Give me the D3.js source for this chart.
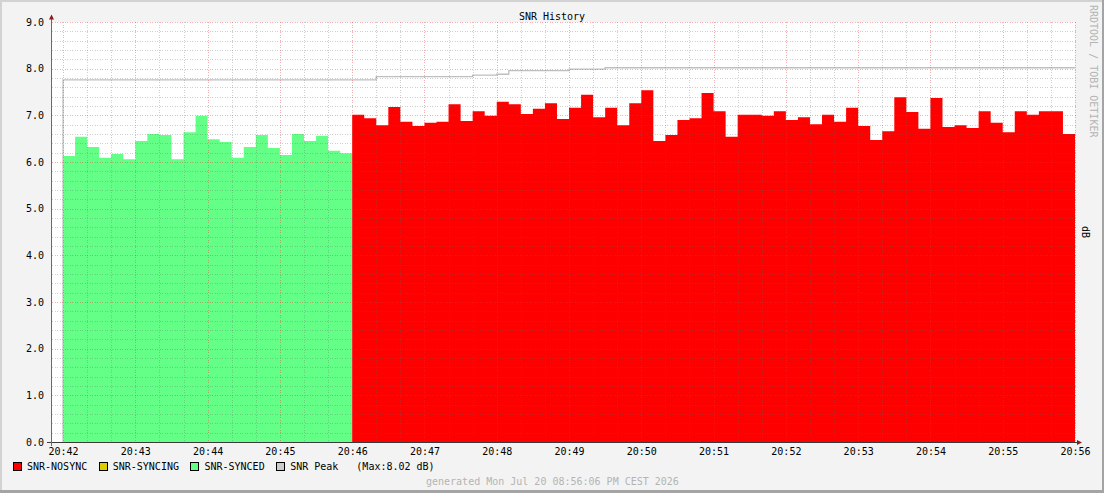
<!DOCTYPE html>
<html>
<head>
<meta charset="utf-8">
<script src="https://cdn.jsdelivr.net/npm/d3@7"></script>
<style>
  body { margin: 0; background: #f3f3f3; }
  svg { display: block; font-family: "DejaVu Sans Mono", monospace; font-size: 10px; }
</style>
</head>
<body>
<div id="chart"></div>
<script>
// Samples every 10 seconds, starting at 20:42:00
const startTime = "20:42:00";
const stepSeconds = 10;

const snrSynced = [
    6.13, 6.54, 6.32, 6.09, 6.17, 6.06, 6.45, 6.60, 6.58, 6.06, 6.64, 6.99,
    6.49, 6.43, 6.09, 6.32, 6.58, 6.30, 6.15, 6.60, 6.45, 6.56, 6.24, 6.19
];
const snrSyncing = [];
const snrNosync = [
    7.01, 6.94, 6.79, 7.18, 6.86, 6.77, 6.84, 6.86, 7.24, 6.88, 7.09, 6.99,
    7.29, 7.24, 7.03, 7.14, 7.26, 6.92, 7.16, 7.44, 6.96, 7.16, 6.79, 7.26,
    7.54, 6.45, 6.58, 6.90, 6.94, 7.48, 7.09, 6.54, 7.01, 7.01, 6.99, 7.09,
    6.90, 6.96, 6.81, 7.01, 6.86, 7.16, 6.77, 6.47, 6.66, 7.39, 7.07, 6.71,
    7.37, 6.75, 6.79, 6.73, 7.09, 6.84, 6.64, 7.09, 7.01, 7.09, 7.09, 6.60
];
const snrPeak = [
    7.76, 7.76, 7.76, 7.76, 7.76, 7.76, 7.76, 7.76, 7.76, 7.76, 7.76, 7.76, 7.76,
    7.76, 7.76, 7.76, 7.76, 7.76, 7.76, 7.76, 7.76, 7.76, 7.76, 7.76, 7.76, 7.76,
    7.83, 7.83, 7.83, 7.83, 7.83, 7.83, 7.83, 7.83,
    7.86, 7.86, 7.88,
    7.96, 7.96, 7.96, 7.96, 7.96,
    7.99, 7.99, 7.99,
    8.02, 8.02, 8.02, 8.02, 8.02, 8.02, 8.02, 8.02, 8.02, 8.02, 8.02, 8.02, 8.02,
    8.02, 8.02, 8.02, 8.02, 8.02, 8.02, 8.02, 8.02, 8.02, 8.02, 8.02, 8.02, 8.02,
    8.02, 8.02, 8.02, 8.02, 8.02, 8.02, 8.02, 8.02, 8.02, 8.02, 8.02, 8.02, 8.02
];
const peakMax = "8.02";

const xTickLabels = ["20:42", "20:43", "20:44", "20:45", "20:46", "20:47", "20:48",
                     "20:49", "20:50", "20:51", "20:52", "20:53", "20:54", "20:55", "20:56"];
const yTickLabels = ["0.0", "1.0", "2.0", "3.0", "4.0", "5.0", "6.0", "7.0", "8.0", "9.0"];
const legendLabels = ["SNR-NOSYNC", "SNR-SYNCING", "SNR-SYNCED", "SNR Peak"];

const w = 1104;
const h = 493;
const pLeft = 51, pRight = 1075, pTop = 22, pBottom = 442;

const colors = {
    nosync: "#ff0000",
    syncing: "#ddcc00",
    synced: "#64ff87",
    peak: "#cccccc"
};

const toDate = (s) => {
    const [hh, mm, ss] = s.split(":").map(Number);
    return new Date(2026, 6, 20, hh, mm, ss || 0);
};
const t0 = toDate(startTime);
const tAt = (i) => new Date(t0.getTime() + i * stepSeconds * 1000);
const total = snrSynced.length + snrSyncing.length + snrNosync.length;

const xScale = d3.scaleTime()
    .domain([tAt(-1), tAt(total)])
    .range([pLeft, pRight]);

const yScale = d3.scaleLinear()
    .domain([0, 9])
    .range([pBottom, pTop]);

// turn a run of samples into step points (last value held to the end of its slot)
const toSteps = (values, offset) => {
    const pts = values.map((v, i) => ({ t: tAt(offset + i), v: v }));
    if (values.length) pts.push({ t: tAt(offset + values.length), v: values[values.length - 1] });
    return pts;
};

const svg = d3.select("#chart")
    .append("svg")
    .attr("width", w)
    .attr("height", h);

// Background + 3d frame
svg.append("rect").attr("width", w).attr("height", h).attr("fill", "#f3f3f3");
svg.append("rect").attr("x", 0).attr("y", 0).attr("width", w).attr("height", 2).attr("fill", "#d2d2d2");
svg.append("rect").attr("x", 0).attr("y", 0).attr("width", 2).attr("height", h).attr("fill", "#d2d2d2");
svg.append("rect").attr("x", w - 2).attr("y", 0).attr("width", 2).attr("height", h).attr("fill", "#a4a4a4");
svg.append("rect").attr("x", 0).attr("y", h - 3).attr("width", w).attr("height", 3).attr("fill", "#a4a4a4");

// Plot canvas
svg.append("rect")
    .attr("x", pLeft)
    .attr("y", pTop)
    .attr("width", pRight - pLeft)
    .attr("height", pBottom - pTop)
    .attr("fill", "#ffffff");

// Peak line (drawn under the areas, it starts from zero)
const peakPts = [{ t: tAt(0), v: 0 }].concat(toSteps(snrPeak, 0));
svg.append("path")
    .datum(peakPts)
    .attr("fill", "none")
    .attr("stroke", "#bfbfbf")
    .attr("stroke-width", 1.3)
    .attr("d", d3.line()
        .x((d) => xScale(d.t))
        .y((d) => yScale(d.v))
        .curve(d3.curveStepAfter));

// Areas
const area = d3.area()
    .x((d) => xScale(d.t))
    .y0(yScale(0))
    .y1((d) => yScale(d.v))
    .curve(d3.curveStepAfter);

const series = [
    { values: snrSynced, offset: 0, color: colors.synced },
    { values: snrSyncing, offset: snrSynced.length, color: colors.syncing },
    { values: snrNosync, offset: snrSynced.length + snrSyncing.length, color: colors.nosync }
];

svg.selectAll("path.area")
    .data(series.filter((s) => s.values.length))
    .enter()
    .append("path")
    .attr("class", "area")
    .attr("fill", (d) => d.color)
    .attr("d", (d) => area(toSteps(d.values, d.offset)));

// Grid (drawn over the data, semi transparent)
const grid = svg.append("g").attr("shape-rendering", "crispEdges");

const yMajor = yTickLabels.map(Number);
const yMinor = d3.range(0, 45).map((i) => i * 0.2).filter((v) => Math.abs(v - Math.round(v)) > 0.01);
const xMajor = xTickLabels.map(toDate);
const xMinor = xScale.ticks(d3.timeSecond.every(20)).filter((d) => d.getSeconds() !== 0);

const minorStroke = "rgba(100,100,100,0.3)";
const majorStroke = "rgba(230,50,50,0.38)";

grid.selectAll("line.ymin")
    .data(yMinor)
    .enter()
    .append("line")
    .attr("x1", pLeft + 1).attr("x2", pRight + 2)
    .attr("y1", (d) => Math.round(yScale(d)) + 0.5)
    .attr("y2", (d) => Math.round(yScale(d)) + 0.5)
    .attr("stroke", minorStroke)
    .attr("stroke-dasharray", "1,1.5");

grid.selectAll("line.xmin")
    .data(xMinor)
    .enter()
    .append("line")
    .attr("x1", (d) => Math.round(xScale(d)) + 0.5)
    .attr("x2", (d) => Math.round(xScale(d)) + 0.5)
    .attr("y1", pTop).attr("y2", pBottom + 3)
    .attr("stroke", minorStroke)
    .attr("stroke-dasharray", "1,1.5");

grid.selectAll("line.ymaj")
    .data(yMajor)
    .enter()
    .append("line")
    .attr("x1", pLeft + 1).attr("x2", pRight + 2)
    .attr("y1", (d) => Math.round(yScale(d)) + 0.5)
    .attr("y2", (d) => Math.round(yScale(d)) + 0.5)
    .attr("stroke", majorStroke)
    .attr("stroke-dasharray", "1,1.5");

grid.selectAll("line.xmaj")
    .data(xMajor)
    .enter()
    .append("line")
    .attr("x1", (d) => Math.round(xScale(d)) + 0.5)
    .attr("x2", (d) => Math.round(xScale(d)) + 0.5)
    .attr("y1", pTop).attr("y2", pBottom + 3)
    .attr("stroke", majorStroke)
    .attr("stroke-dasharray", "1,1.5");

// Axes labels
const xAxis = d3.axisBottom(xScale)
    .tickValues(xMajor)
    .tickFormat(d3.timeFormat("%H:%M"))
    .tickSize(0)
    .tickPadding(5.5);

const yAxis = d3.axisLeft(yScale)
    .tickValues(yMajor)
    .tickFormat(d3.format(".1f"))
    .tickSize(0)
    .tickPadding(7);

const gx = svg.append("g")
    .attr("transform", `translate(0, ${pBottom})`)
    .call(xAxis);
const gy = svg.append("g")
    .attr("transform", `translate(${pLeft}, 0)`)
    .call(yAxis);

[gx, gy].forEach((g) => {
    g.select(".domain").remove();
    g.selectAll("text")
        .attr("fill", "#000")
        .attr("font-family", "DejaVu Sans Mono, monospace")
        .attr("font-size", 10);
});

// Axis lines + arrows
svg.append("line")
    .attr("x1", pLeft - 4).attr("x2", pRight + 2)
    .attr("y1", pBottom + 0.5).attr("y2", pBottom + 0.5)
    .attr("stroke", "#3a3a3a")
    .attr("shape-rendering", "crispEdges");
svg.append("line")
    .attr("x1", pLeft + 0.5).attr("x2", pLeft + 0.5)
    .attr("y1", pBottom + 4).attr("y2", pTop - 3)
    .attr("stroke", "#6a6a6a")
    .attr("shape-rendering", "crispEdges");
svg.append("path")
    .attr("d", `M${pRight + 2},${pBottom - 2}L${pRight + 7},${pBottom + 0.5}L${pRight + 2},${pBottom + 3}Z`)
    .attr("fill", "#8b1c1c");
svg.append("path")
    .attr("d", `M${pLeft - 2},${pTop - 2.5}L${pLeft + 0.5},${pTop - 7.5}L${pLeft + 3},${pTop - 2.5}Z`)
    .attr("fill", "#8b1c1c");

// Title
svg.append("text")
    .text("SNR History")
    .attr("x", 552)
    .attr("y", 19.5)
    .attr("text-anchor", "middle")
    .attr("fill", "#000");

// Right side texts
svg.append("text")
    .text("RRDTOOL / TOBI OETIKER")
    .attr("transform", "translate(1093, 5) rotate(90)")
    .attr("dy", "0.35em")
    .attr("fill", "#b4b4b4");

svg.append("text")
    .text("dB")
    .attr("transform", "translate(1085, 232) rotate(90)")
    .attr("text-anchor", "middle")
    .attr("dy", "0.35em")
    .attr("fill", "#000");

// Legend
const legend = svg.append("g").attr("id", "legend");
const legendColors = [colors.nosync, colors.syncing, colors.synced, colors.peak];
let lx = 13;
legendLabels.forEach((label, i) => {
    legend.append("rect")
        .attr("x", lx + 0.5)
        .attr("y", 462.5)
        .attr("width", 8)
        .attr("height", 8)
        .attr("fill", legendColors[i])
        .attr("stroke", "#000")
        .attr("shape-rendering", "crispEdges");
    const t = legend.append("text")
        .text(label)
        .attr("x", lx + 14)
        .attr("y", 470)
        .attr("fill", "#000");
    lx = lx + 14 + t.node().getComputedTextLength() + 11.5;
});
legend.append("text")
    .text(`(Max:${peakMax} dB)`)
    .attr("x", lx - 11.5 + 18)
    .attr("y", 470)
    .attr("fill", "#000");

// Footer
svg.append("text")
    .text("generated Mon Jul 20 08:56:06 PM CEST 2026")
    .attr("x", 426)
    .attr("y", 484.5)
    .attr("fill", "#b4b4b4");
</script>
</body>
</html>
